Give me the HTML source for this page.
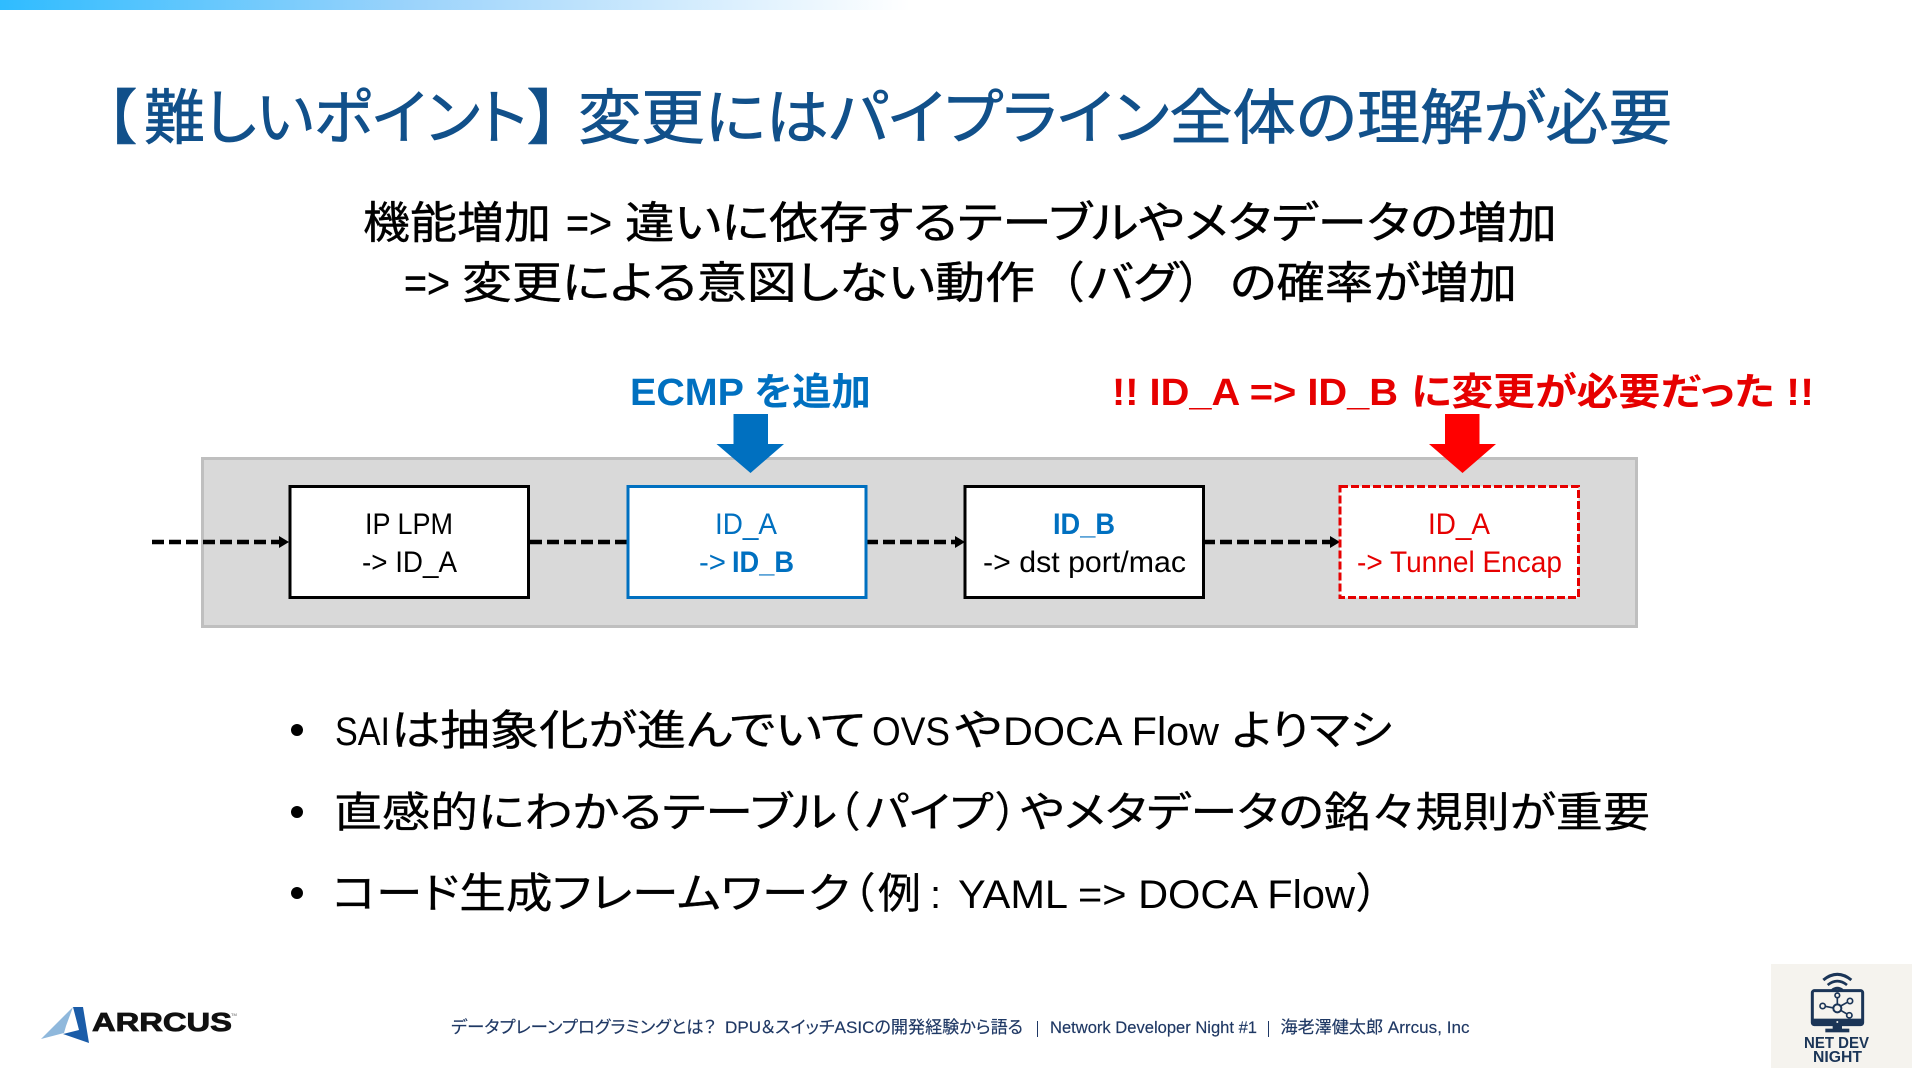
<!DOCTYPE html>
<html lang="ja">
<head>
<meta charset="utf-8">
<title>難しいポイント</title>
<style>
html,body{margin:0;padding:0;background:#fff;width:1920px;height:1080px;overflow:hidden}
svg{display:block}
text{font-family:"Liberation Sans","Noto Sans CJK JP",sans-serif;font-feature-settings:"palt" 1}
.t{font-size:60px;fill:#11508a;stroke:#11508a;stroke-width:.7px}
.s{font-size:44px;fill:#000;stroke:#000;stroke-width:.4px}
.b{font-size:42px;fill:#000;stroke:#000;stroke-width:.3px}
.bl{font-size:40px;fill:#000}
.box{font-size:30px}
.lab{font-size:38px;font-weight:bold}
.f{font-size:17px;fill:#1f3864;stroke:#1f3864;stroke-width:.15px}
</style>
</head>
<body>
<svg width="1920" height="1080" viewBox="0 0 1920 1080" xmlns="http://www.w3.org/2000/svg">
<defs>
<linearGradient id="g" x1="0" x2="1" y1="0" y2="0">
<stop offset="0" stop-color="#2fbcff"/>
<stop offset="0.45" stop-color="#9bd3fb"/>
<stop offset="1" stop-color="#ffffff"/>
</linearGradient>
</defs>
<rect width="1920" height="1080" fill="#fff"/>
<rect x="0" y="0" width="910" height="10" fill="url(#g)"/>

<!-- Title -->
<text class="t" x="106" y="139">【</text>
<text class="t" x="144" y="139" textLength="383" lengthAdjust="spacingAndGlyphs">難しいポイント</text>
<text class="t" x="528" y="139">】</text>
<text class="t" x="578" y="139" textLength="1094" lengthAdjust="spacingAndGlyphs">変更にはパイプライン全体の理解が必要</text>

<!-- Subtitle -->
<text class="s" x="363" y="238" textLength="188" lengthAdjust="spacingAndGlyphs">機能増加</text>
<text class="s" x="566" y="238" textLength="46" lengthAdjust="spacingAndGlyphs">=&gt;</text>
<text class="s" x="625" y="238" textLength="932" lengthAdjust="spacingAndGlyphs">違いに依存するテーブルやメタデータの増加</text>
<text class="s" x="404" y="298" textLength="46" lengthAdjust="spacingAndGlyphs">=&gt;</text>
<text class="s" x="462" y="298" textLength="573" lengthAdjust="spacingAndGlyphs">変更による意図しない動作</text>
<text class="s" x="1061" y="298">（</text>
<text class="s" x="1087" y="298" textLength="91" lengthAdjust="spacingAndGlyphs">バグ</text>
<text class="s" x="1179" y="298">）</text>
<text class="s" x="1230" y="298" textLength="287" lengthAdjust="spacingAndGlyphs">の確率が増加</text>

<!-- Labels -->
<text class="lab" x="630" y="405" fill="#0070c0" textLength="241" lengthAdjust="spacingAndGlyphs">ECMP を追加</text>
<text class="lab" x="1112" y="405" fill="#e60000" textLength="286" lengthAdjust="spacingAndGlyphs">!! ID_A =&gt; ID_B</text>
<text class="lab" x="1411" y="405" fill="#e60000" textLength="403" lengthAdjust="spacingAndGlyphs">に変更が必要だった !!</text>

<!-- Panel -->
<rect x="202.500" y="458.500" width="1434" height="168" fill="#d9d9d9" stroke="#bfbfbf" stroke-width="3"/>

<!-- Connectors -->
<g stroke="#000" stroke-width="4.500" stroke-dasharray="12 5" fill="none">
<line x1="152" y1="542" x2="281" y2="542"/>
<line x1="530" y1="542" x2="627" y2="542"/>
<line x1="866" y1="542" x2="956" y2="542"/>
<line x1="1203" y1="542" x2="1332" y2="542"/>
</g>
<g fill="#000">
<polygon points="279,536 289,542 279,548"/>
<polygon points="955,536 965,542 955,548"/>
<polygon points="1330,536 1340,542 1330,548"/>
</g>

<!-- Boxes -->
<rect x="290" y="486.500" width="238.500" height="111" fill="#fff" stroke="#000" stroke-width="3"/>
<rect x="628" y="486.500" width="238" height="111" fill="#fff" stroke="#0070c0" stroke-width="3"/>
<rect x="965" y="486.500" width="238.500" height="111" fill="#fff" stroke="#000" stroke-width="3"/>
<rect x="1340" y="486.500" width="238.500" height="111" fill="#fff" stroke="#e60000" stroke-width="3" stroke-dasharray="8 3"/>

<text class="box" x="365" y="534" fill="#000" textLength="88" lengthAdjust="spacingAndGlyphs">IP LPM</text>
<text class="box" x="362" y="572" fill="#000" textLength="95" lengthAdjust="spacingAndGlyphs">-&gt; ID_A</text>
<text class="box" x="715" y="534" fill="#0070c0" textLength="62" lengthAdjust="spacingAndGlyphs">ID_A</text>
<text class="box" x="699" y="572" fill="#0070c0" textLength="27" lengthAdjust="spacingAndGlyphs">-&gt;</text>
<text class="box" x="732" y="572" fill="#0070c0" font-weight="bold" textLength="62" lengthAdjust="spacingAndGlyphs">ID_B</text>
<text class="box" x="1053" y="534" fill="#0070c0" font-weight="bold" textLength="62" lengthAdjust="spacingAndGlyphs">ID_B</text>
<text class="box" x="983" y="572" fill="#000" textLength="203" lengthAdjust="spacingAndGlyphs">-&gt; dst port/mac</text>
<text class="box" x="1428" y="534" fill="#e60000" textLength="62" lengthAdjust="spacingAndGlyphs">ID_A</text>
<text class="box" x="1357" y="572" fill="#e60000" textLength="205" lengthAdjust="spacingAndGlyphs">-&gt; Tunnel Encap</text>

<!-- Block arrows -->
<polygon points="733.500,414 768,414 768,444 784,444 750.500,473 716.500,444 733.500,444" fill="#0070c0"/>
<polygon points="1445,414 1479.500,414 1479.500,444 1496,444 1462.500,473 1429,444 1445,444" fill="#ff0000"/>

<!-- Bullets -->
<circle cx="297" cy="730" r="6" fill="#000"/>
<circle cx="297" cy="812" r="6" fill="#000"/>
<circle cx="297" cy="893" r="6" fill="#000"/>

<text class="bl" x="335" y="745" textLength="55" lengthAdjust="spacingAndGlyphs">SAI</text>
<text class="b" x="391" y="745" textLength="475" lengthAdjust="spacingAndGlyphs">は抽象化が進んでいて</text>
<text class="bl" x="872" y="745" textLength="78" lengthAdjust="spacingAndGlyphs">OVS</text>
<text class="b" x="954" y="745" textLength="48" lengthAdjust="spacingAndGlyphs">や</text>
<text class="bl" x="1003" y="745" textLength="216" lengthAdjust="spacingAndGlyphs">DOCA Flow</text>
<text class="b" x="1232" y="745" textLength="160" lengthAdjust="spacingAndGlyphs">よりマシ</text>

<text class="b" x="334" y="827" textLength="503" lengthAdjust="spacingAndGlyphs">直感的にわかるテーブル</text>
<text class="b" x="838" y="827">（</text>
<text class="b" x="865" y="827" textLength="128" lengthAdjust="spacingAndGlyphs">パイプ</text>
<text class="b" x="996" y="827">）</text>
<text class="b" x="1020" y="827" textLength="630" lengthAdjust="spacingAndGlyphs">やメタデータの銘々規則が重要</text>

<text class="b" x="332" y="908" textLength="518" lengthAdjust="spacingAndGlyphs">コード生成フレームワーク</text>
<text class="b" x="853" y="908">（</text>
<text class="b" x="878" y="908" textLength="43" lengthAdjust="spacingAndGlyphs">例</text>
<text class="bl" x="930" y="908">:</text>
<text class="bl" x="958" y="908" textLength="397" lengthAdjust="spacingAndGlyphs">YAML =&gt; DOCA Flow</text>
<text class="b" x="1357" y="908">）</text>

<!-- Footer -->
<text class="f" x="451" y="1033" textLength="265" lengthAdjust="spacingAndGlyphs">データプレーンプログラミングとは？</text>
<text class="f" x="725" y="1033" textLength="298" lengthAdjust="spacingAndGlyphs">DPU＆スイッチASICの開発経験から語る</text>
<rect x="1037" y="1021" width="1" height="16" fill="#1f3864"/>
<text class="f" x="1050" y="1033" textLength="207" lengthAdjust="spacingAndGlyphs">Network Developer Night #1</text>
<rect x="1268" y="1021" width="1" height="16" fill="#1f3864"/>
<text class="f" x="1280.500" y="1033" textLength="189" lengthAdjust="spacingAndGlyphs">海老澤健太郎 Arrcus, Inc</text>

<!-- Arrcus logo -->
<polygon points="73,1007 41,1039 64,1033 66,1026" fill="#8fb8dc"/>
<polygon points="73,1007 83,1007 89,1043 63,1034 79,1030" fill="#1a5ca8"/>
<text x="92" y="1031" font-size="26" font-weight="bold" fill="#111" stroke="#111" stroke-width="0.8" textLength="140" lengthAdjust="spacingAndGlyphs">ARRCUS</text>
<text x="231" y="1016" font-size="4" fill="#555">TM</text>

<!-- Net Dev Night tile -->
<rect x="1771" y="964" width="141" height="104" fill="#f5f3ee"/>
<g transform="translate(1760,960) scale(0.3333)" stroke="#1b3557" fill="none">
<path d="M190 60 Q232 26 274 60" stroke-width="9"/>
<path d="M203 75 Q232 52 261 75" stroke-width="8"/>
<path d="M216 90 Q232 78 248 90" stroke-width="7"/>
<rect x="157" y="92" width="151" height="102" rx="6" stroke-width="9"/>
<rect x="157" y="176" width="151" height="20" fill="#1b3557" stroke="none"/>
<circle cx="232" cy="186" r="3" fill="#f5f3ee" stroke="none"/>
<rect x="218" y="196" width="28" height="12" fill="#1b3557" stroke="none"/>
<rect x="196" y="206" width="72" height="11" fill="#1b3557" stroke="none"/>
<circle cx="232" cy="145" r="12" stroke-width="6"/>
<circle cx="232" cy="106" r="7" stroke-width="5"/>
<circle cx="188" cy="138" r="8" stroke-width="5"/>
<circle cx="270" cy="123" r="8" stroke-width="5"/>
<circle cx="268" cy="166" r="8" stroke-width="5"/>
<path d="M232 113V133M196 139L220 144M262 127L242 138M261 162L242 151" stroke-width="5"/>
</g>
<text x="1804" y="1048" font-size="15.500" font-weight="bold" fill="#1b3557" textLength="65" lengthAdjust="spacingAndGlyphs">NET DEV</text>
<text x="1813" y="1062" font-size="15.500" font-weight="bold" fill="#1b3557" textLength="49" lengthAdjust="spacingAndGlyphs">NIGHT</text>
</svg>
</body>
</html>
